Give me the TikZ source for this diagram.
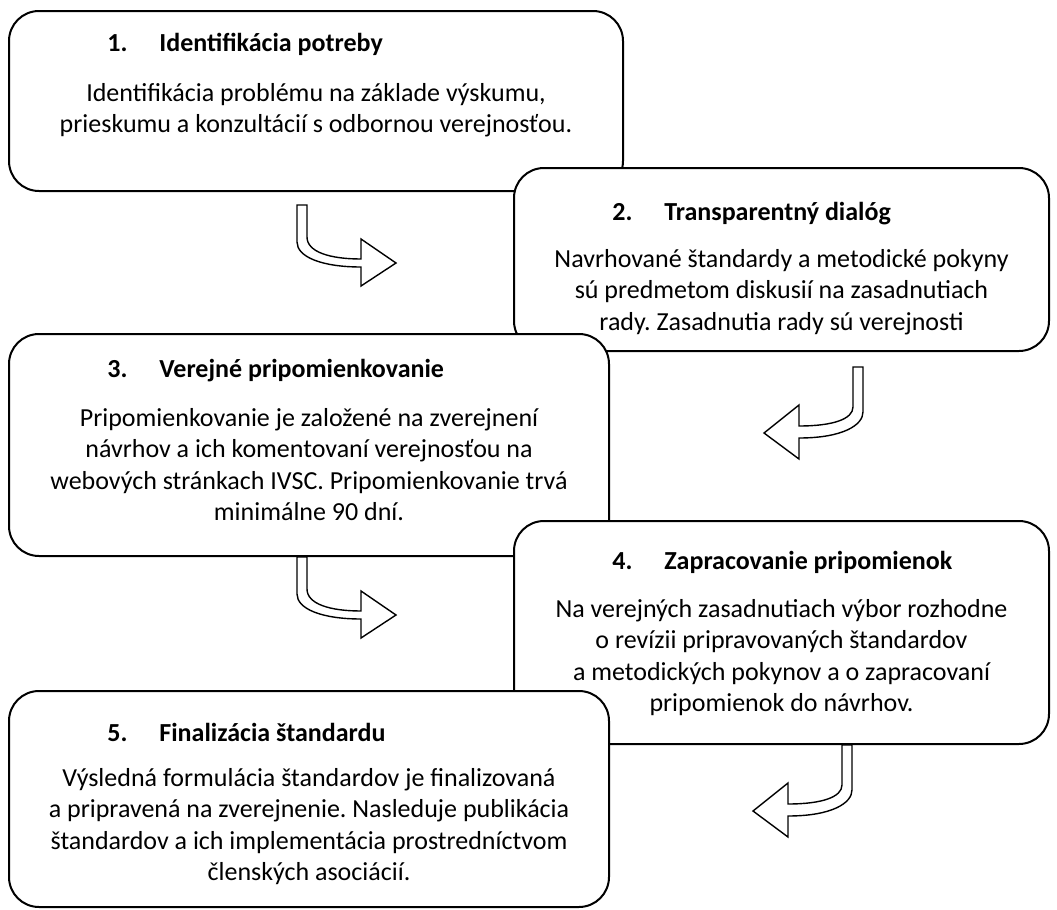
\documentclass[tikz,border=0pt]{standalone}
\usepackage{fontspec}
\setmainfont{Carlito}
\usetikzlibrary{positioning,calc}
\frenchspacing

% bent block arrows, origin at the top corner of the shaft
\tikzset{
	bentright/.pic={
		\draw[turn] (0,0) -- (10,0) -- (10,32) .. controls (10,47) and (33,54) .. (64,54)
			-- (64,34) -- (99,58) -- (64,81) -- (64,62) .. controls (25,62) and (0,52) .. (0,37) -- cycle;},
	bentleft/.pic={
		\draw[turn] (0,0) -- (-10,0) -- (-10,40) .. controls (-10,52) and (-30,59) .. (-64,59)
			-- (-64,38) -- (-99,66) -- (-64,92) -- (-64,71) .. controls (-20,71) and (0,58) .. (0,45) -- cycle;}
}

\begin{document}
\begin{tikzpicture}[x=0.5pt,y=-0.5pt,
		box/.style={draw,fill=white,line width=1pt,rounded corners=15pt,anchor=north west,inner sep=0pt},
		head/.style={anchor=base west,inner sep=0pt,font=\fontsize{13}{15.75}\selectfont\bfseries},
		body/.style={anchor=north,align=center,inner sep=0pt,font=\fontsize{13}{15.75}\selectfont},
		turn/.style={draw,fill=white,line width=0.7pt,line join=miter}]
	\useasboundingbox (0,0) rectangle (1057,910);

	% 1
	\node[box,minimum width=307pt,minimum height=90pt]	(1)	at (8,10)	{};
	\node[head]	(1h)	at ($(1.north west)+(99,41)$)	{\makebox[26pt][l]{1.}Identifikácia potreby};
	\node[body]	(1b)	at ($(1.north)+(0,69)$)	{\strut Identifikácia problému na základe výskumu,\\prieskumu a konzultácií s odbornou verejnosťou.};

	% 2
	\node[box,minimum width=267.5pt,minimum height=91.5pt]	(2)	at (513,167)	{};
	\node[head]	(2h)	at ($(2.north west)+(99,53)$)	{\makebox[26pt][l]{2.}Transparentný dialóg};
	\node[body]	(2b)	at ($(2.north)+(0,78)$)	{\strut Navrhované štandardy a metodické pokyny\\sú predmetom diskusií na zasadnutiach\\rady. Zasadnutia rady sú verejnosti};

	% 3
	\node[box,minimum width=300pt,minimum height=111pt]	(3)	at (8,333)	{};
	\node[head]	(3h)	at ($(3.north west)+(99,44)$)	{\makebox[26pt][l]{3.}Verejné pripomienkovanie};
	\node[body]	(3b)	at ($(3.north)+(0,71)$)	{\strut Pripomienkovanie je založené na zverejnení\\návrhov a ich komentovaní verejnosťou na\\webových stránkach IVSC. Pripomienkovanie trvá\\minimálne 90 dní.};

	% 4
	\node[box,minimum width=267.5pt,minimum height=111.5pt]	(4)	at (513,520)	{};
	\node[head]	(4h)	at ($(4.north west)+(99,49)$)	{\makebox[26pt][l]{4.}Zapracovanie pripomienok};
	\node[body]	(4b)	at ($(4.north)+(0,75)$)	{\strut Na verejných zasadnutiach výbor rozhodne\\o revízii pripravovaných štandardov\\a metodických pokynov a o zapracovaní\\pripomienok do návrhov.};

	% 5
	\node[box,minimum width=300pt,minimum height=108pt]	(5)	at (8,690)	{};
	\node[head]	(5h)	at ($(5.north west)+(99,51)$)	{\makebox[26pt][l]{5.}Finalizácia štandardu};
	\node[body]	(5b)	at ($(5.north)+(0,74)$)	{\strut Výsledná formulácia štandardov je finalizovaná\\a pripravená na zverejnenie. Nasleduje publikácia\\štandardov a ich implementácia prostredníctvom\\členských asociácií.};

	% arrows between the steps
	\pic at ($(1.south west)+(289,13)$)	{bentright};
	\pic at ($(2.south east)+(-187,15)$)	{bentleft};
	\pic at ($(3.south west)+(289,0)$)	{bentright};
	\pic at ($(4.south east)+(-198,0)$)	{bentleft};
\end{tikzpicture}
\end{document}
